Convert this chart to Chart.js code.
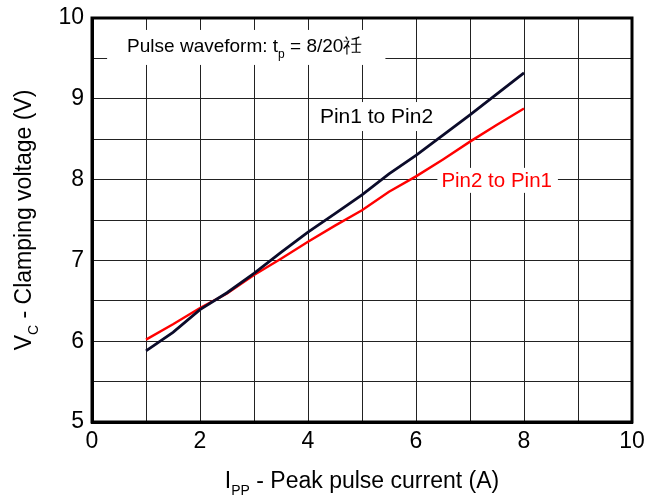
<!DOCTYPE html>
<html>
<head>
<meta charset="utf-8">
<script src="https://cdn.jsdelivr.net/npm/chart.js@4.4.1/dist/chart.umd.min.js"></script>
<style>
  html, body { margin: 0; padding: 0; background: #fff; }
  canvas { display: block; }
</style>
</head>
<body>
<canvas id="clamp" width="648" height="501"></canvas>
<script>
(function () {
    "use strict";

    // Data
    var currentA = [1, 1.5, 2, 2.5, 3, 3.5, 4, 4.5, 5, 5.5, 6, 6.5, 7, 7.5, 8];
    var pin1to2 = [5.88, 6.11, 6.39, 6.60, 6.84, 7.10, 7.35, 7.58, 7.81, 8.07, 8.30, 8.55, 8.80, 9.06, 9.32];
    var pin2to1 = [6.02, 6.21, 6.41, 6.59, 6.82, 7.02, 7.23, 7.43, 7.62, 7.85, 8.04, 8.25, 8.47, 8.68, 8.88];
    var xTickLabels = [0, 2, 4, 6, 8, 10];
    var yTickLabels = [5, 6, 7, 8, 9, 10];

    var FONT = "'Liberation Sans', Arial, sans-serif";

    function toPoints(xs, ys) {
        return xs.map(function (x, i) { return { x: x, y: ys[i] }; });
    }

    // text made of parts, some of them subscripted
    function partsWidth(ctx, parts, size) {
        var w = 0;
        parts.forEach(function (p) {
            ctx.font = (p.sub ? Math.round(size * 0.62) : size) + "px " + FONT;
            w += ctx.measureText(p.t).width;
        });
        return w;
    }
    function drawParts(ctx, parts, x, y, size, color) {
        ctx.fillStyle = color;
        ctx.textBaseline = "alphabetic";
        ctx.textAlign = "left";
        parts.forEach(function (p) {
            ctx.font = (p.sub ? Math.round(size * 0.62) : size) + "px " + FONT;
            ctx.fillText(p.t, x, p.sub ? y + size * 0.3 : y);
            x += ctx.measureText(p.t).width;
        });
    }

    var labels = [
        { parts: [{ t: "Pulse waveform: t" }, { t: "p", sub: true }, { t: " = 8/20祍" }],
          x: 0.65, y: 9.58, size: 19, color: "#000", box: [-20, -22, 23, 13] },
        { parts: [{ t: "Pin1 to Pin2" }], x: 4.22, y: 8.70, size: 21, color: "#000", box: [-6, -21, 6, 8] },
        { parts: [{ t: "Pin2 to Pin1" }], x: 6.47, y: 7.91, size: 20.5, color: "#ff0000", box: [-4, -19, 6, 6] }
    ];

    var decor = {
        id: "decor",
        beforeDatasetsDraw: function (chart) {
            var a = chart.chartArea, ctx = chart.ctx;
            ctx.save();
            ctx.strokeStyle = "#000";
            ctx.lineWidth = 3;
            ctx.strokeRect(a.left, a.top, a.right - a.left, a.bottom - a.top);
            var sx = chart.scales.x, sy = chart.scales.y;
            labels.forEach(function (l) {
                var px = sx.getPixelForValue(l.x), py = sy.getPixelForValue(l.y);
                var w = partsWidth(ctx, l.parts, l.size);
                ctx.fillStyle = "#fff";
                ctx.fillRect(px + l.box[0], py + l.box[1], w - l.box[0] + l.box[2], l.box[3] - l.box[1]);
                drawParts(ctx, l.parts, px, py, l.size, l.color);
            });
            ctx.restore();
        },
        afterDraw: function (chart) {
            var a = chart.chartArea, ctx = chart.ctx;
            ctx.save();
            var size = 23;
            var xt = [{ t: "I" }, { t: "PP", sub: true }, { t: " - Peak pulse current (A)" }];
            var w = partsWidth(ctx, xt, size);
            drawParts(ctx, xt, (a.left + a.right) / 2 - w / 2, 488, size, "#000");
            var yt = [{ t: "V" }, { t: "C", sub: true }, { t: " - Clamping voltage (V)" }];
            w = partsWidth(ctx, yt, size);
            ctx.translate(31, (a.top + a.bottom) / 2);
            ctx.rotate(-Math.PI / 2);
            drawParts(ctx, yt, -w / 2, 0, size, "#000");
            ctx.restore();
        }
    };

    var ctx1 = document.getElementById("clamp").getContext("2d");
    var myChart1 = new Chart(ctx1, {
        type: "line",
        data: {
            datasets: [{
                    label: "Pin1 to Pin2",
                    data: toPoints(currentA, pin1to2),
                    borderColor: "#0b0b2a",
                    borderWidth: 2.8
                },
                {
                    label: "Pin2 to Pin1",
                    data: toPoints(currentA, pin2to1),
                    borderColor: "#ff0000",
                    borderWidth: 2.4
                }
            ]
        },
        options: {
            responsive: false,
            animation: false,
            layout: { padding: { left: 0, right: 16, top: 18, bottom: 0 } },
            elements: { point: { radius: 0 }, line: { tension: 0 } },
            plugins: { legend: { display: false }, tooltip: { enabled: false } },
            scales: {
                x: {
                    type: "linear",
                    min: 0,
                    max: 10,
                    afterFit: function (s) {
                        s.height = 79;
                        s.paddingLeft = 0; s.paddingRight = 0;
                    },
                    ticks: {
                        stepSize: 1,
                        autoSkip: false,
                        maxRotation: 0,
                        padding: 6,
                        color: "#000",
                        font: { family: FONT, size: 23 },
                        callback: function (v) { return xTickLabels.indexOf(v) >= 0 ? String(v) : ""; }
                    },
                    grid: { color: "#222", lineWidth: 1, drawTicks: false },
                    border: { color: "#000", width: 3 }
                },
                y: {
                    min: 5,
                    max: 10,
                    afterFit: function (s) {
                        s.width = 92;
                        s.paddingTop = 0; s.paddingBottom = 0;
                    },
                    ticks: {
                        stepSize: 0.5,
                        autoSkip: false,
                        padding: 8,
                        color: "#000",
                        font: { family: FONT, size: 23 },
                        callback: function (v) { return yTickLabels.indexOf(v) >= 0 ? String(v) : ""; }
                    },
                    grid: { color: "#222", lineWidth: 1, drawTicks: false },
                    border: { color: "#000", width: 3 }
                }
            }
        },
        plugins: [decor]
    });
})();
</script>
</body>
</html>
